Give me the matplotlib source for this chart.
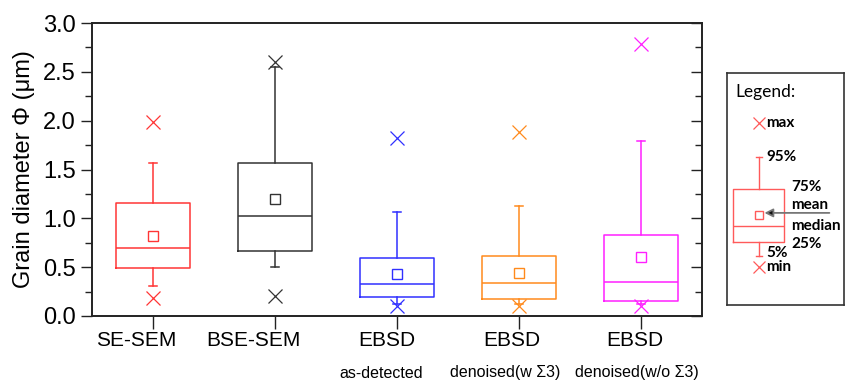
import matplotlib
matplotlib.use("Agg")
import matplotlib.pyplot as plt
import matplotlib.transforms as mtransforms
from matplotlib.ticker import MultipleLocator

# Grain-size statistics per measurement method (µm)
methods = ["SE-SEM", "BSE-SEM", "EBSD", "EBSD", "EBSD"]
sublabels = ["", "", "as-detected", "denoised(w \u03a33)", "denoised(w/o \u03a33)"]
colors = ["#FF3535", "#333333", "#3030FF", "#FF8A1C", "#FF20FF"]

p05 = [0.31, 0.50, 0.12, 0.12, 0.12]
q25 = [0.49, 0.67, 0.19, 0.17, 0.15]
median = [0.70, 1.02, 0.33, 0.34, 0.35]
mean = [0.82, 1.20, 0.43, 0.44, 0.60]
q75 = [1.16, 1.57, 0.59, 0.61, 0.83]
p95 = [1.57, 2.55, 1.06, 1.13, 1.79]
vmax = [1.99, 2.60, 1.82, 1.88, 2.79]
vmin = [0.18, 0.20, 0.10, 0.10, 0.10]

# Illustrative key box (arbitrary units on the key panel)
key_stats = dict(whislo=0.211, q1=0.272, med=0.341, mean=0.388, q3=0.50, whishi=0.638)
key_max, key_min = 0.784, 0.164

plt.rcParams["font.family"] = ["Liberation Sans", "DejaVu Sans"]

fig = plt.figure(figsize=(8.46, 3.81), dpi=100)
ax = fig.add_axes([92 / 846, 65 / 381, 610 / 846, 293 / 381])

positions = list(range(1, len(methods) + 1))
for i, pos in enumerate(positions):
    st = dict(whislo=p05[i], q1=q25[i], med=median[i], q3=q75[i],
              whishi=p95[i], mean=mean[i], fliers=[])
    c = colors[i]
    ax.bxp([st], positions=[pos], widths=0.6, capwidths=0.07, showmeans=True,
           showfliers=False,
           boxprops=dict(color=c, linewidth=1.1),
           medianprops=dict(color=c, linewidth=1.1),
           whiskerprops=dict(color=c, linewidth=1.1),
           capprops=dict(color=c, linewidth=1.1),
           meanprops=dict(marker="s", markerfacecolor="none", markeredgecolor=c,
                          markersize=7, markeredgewidth=1.0))
    ax.plot([pos, pos], [vmax[i], vmin[i]], linestyle="none", marker="x",
            color=c, markersize=10, markeredgewidth=0.9)

ax.set_xlim(0.5, 5.5)
ax.set_ylim(0, 3.0)
ax.yaxis.set_major_locator(MultipleLocator(0.5))
ax.yaxis.set_minor_locator(MultipleLocator(0.25))
ax.yaxis.set_major_formatter(matplotlib.ticker.FormatStrFormatter("%.1f"))
ax.tick_params(axis="y", which="both", left=True, right=False, direction="out",
               labelsize=17, width=1.0, color="#222222")
ax.tick_params(axis="y", which="major", length=8)
ax.tick_params(axis="y", which="minor", length=5)
ax.set_xticks(positions)
ax.set_xticklabels([])
ax.tick_params(axis="x", direction="out", length=9, width=1.0,
               color="#222222")

# inward ticks along the right spine
axr = ax.twinx()
axr.set_ylim(ax.get_ylim())
axr.yaxis.set_major_locator(MultipleLocator(0.5))
axr.yaxis.set_minor_locator(MultipleLocator(0.25))
axr.tick_params(axis="y", which="both", direction="in", labelright=False,
                width=1.0, color="#222222")
axr.tick_params(axis="y", which="major", length=8)
axr.tick_params(axis="y", which="minor", length=5)

for a in (ax, axr):
    for s in a.spines.values():
        s.set_linewidth(1.2)
        s.set_color("#222222")

# category labels, each nudged slightly left of its tick
label_shift_px = [-17, -22, -10, -7, -6.5]
sub_shift_px = [0, 0, -16, -14, -4]
xt = ax.get_xaxis_transform()
for pos, name, sub, d1, d2 in zip(positions, methods, sublabels,
                                  label_shift_px, sub_shift_px):
    t1 = mtransforms.offset_copy(xt, fig=fig, x=d1, y=-24.5, units="dots")
    ax.text(pos, 0, name, transform=t1, ha="center", va="center", fontsize=15)
    if sub:
        t2 = mtransforms.offset_copy(xt, fig=fig, x=d2, y=-57, units="dots")
        ax.text(pos, 0, sub, transform=t2, ha="center", va="center", fontsize=11.5)

ax.set_ylabel("Grain diameter \u03a6 (\u03bcm)", fontsize=17, labelpad=6)

# Key panel
lx = fig.add_axes([727 / 846, 76 / 381, 117 / 846, 232 / 381])
for s in lx.spines.values():
    s.set_linewidth(1.2)
    s.set_color("#333333")

kc = "#FF5A5A"
kst = dict(key_stats, fliers=[])
lx.bxp([kst], positions=[0.27], widths=0.43, capwidths=0.05, showmeans=True,
       showfliers=False,
       boxprops=dict(color=kc, linewidth=1.0),
       medianprops=dict(color=kc, linewidth=1.0),
       whiskerprops=dict(color=kc, linewidth=1.0),
       capprops=dict(color=kc, linewidth=1.0),
       meanprops=dict(marker="s", markerfacecolor="none", markeredgecolor=kc,
                      markersize=6, markeredgewidth=1.0))
lx.plot([0.27, 0.27], [key_max, key_min], linestyle="none", marker="x",
        color=kc, markersize=8, markeredgewidth=0.9)
lx.set_xlim(0, 1)
lx.set_ylim(0, 1)
lx.set_xticks([])
lx.set_yticks([])

kfont = ["Lato", "DejaVu Sans"]
lx.text(0.07, 0.918, "Legend:", fontsize=12.5, family=kfont, va="center", ha="left")
labels_key = [("max", 0.335, 0.784), ("95%", 0.335, 0.638), ("75%", 0.55, 0.509),
              ("mean", 0.55, 0.432), ("median", 0.55, 0.341), ("25%", 0.55, 0.263),
              ("5%", 0.335, 0.224), ("min", 0.335, 0.164)]
for txt, x, y in labels_key:
    lx.text(x, y, txt, fontsize=11, family=kfont, fontweight="bold",
            va="center", ha="left")
lx.annotate("", xy=(0.32, 0.397), xytext=(0.875, 0.397),
            arrowprops=dict(arrowstyle="-|>,head_length=0.5,head_width=0.25",
                            ec="#777777", fc="#111111", lw=1.3,
                            shrinkA=0, shrinkB=0))

fig.savefig("out.png", dpi=100)
